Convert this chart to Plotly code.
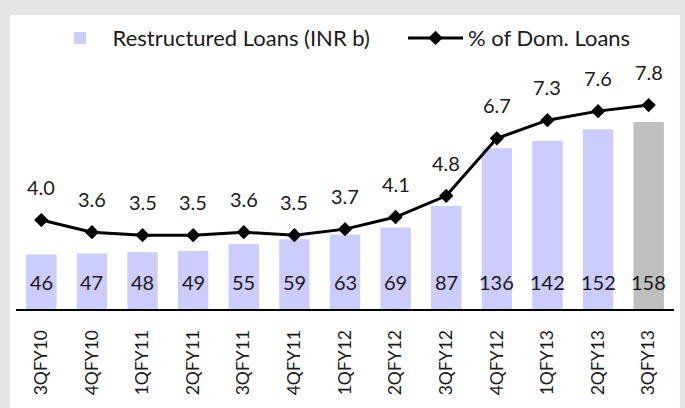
import plotly.graph_objects as go

quarters = ['3QFY10', '4QFY10', '1QFY11', '2QFY11', '3QFY11', '4QFY11', '1QFY12',
            '2QFY12', '3QFY12', '4QFY12', '1QFY13', '2QFY13', '3QFY13']
restructured = [46, 47, 48, 49, 55, 59, 63, 69, 87, 136, 142, 152, 158]
pct_dom_loans = [4.0, 3.6, 3.5, 3.5, 3.6, 3.5, 3.7, 4.1, 4.8, 6.7, 7.3, 7.6, 7.8]

FONT = 'Lato'
TXT = '#1a1a1a'

bar_colors = ['#ccccff'] * (len(quarters) - 1) + ['#bfbfbf']

fig = go.Figure()
# nbsp padding keeps the gap between the two legend entries
fig.add_trace(go.Bar(
    x=quarters, y=restructured, name='Restructured Loans (INR b)' + '\u00a0' * 5,
    marker_color=bar_colors, marker_line_width=0, yaxis='y',
))
fig.add_trace(go.Scatter(
    x=quarters, y=pct_dom_loans, name='% of Dom. Loans', yaxis='y2',
    mode='lines+markers', line=dict(color='black', width=3),
    marker=dict(symbol='diamond', size=11, color='black'),
))

# value labels
for q, v in zip(quarters, restructured):
    fig.add_annotation(x=q, y=0, yref='y', text=str(v), showarrow=False,
                       yanchor='middle', yshift=27,
                       font=dict(family=FONT, size=20, color=TXT))
for q, v in zip(quarters, pct_dom_loans):
    fig.add_annotation(x=q, y=v, yref='y2', text=f'{v:.1f}', showarrow=False,
                       yanchor='middle', yshift=33,
                       font=dict(family=FONT, size=20, color=TXT))

# white panel on the grey frame
fig.add_shape(type='rect', xref='paper', yref='paper', layer='below',
              x0=-0.0091, x1=1.009, y0=-0.45, y1=1.181,
              fillcolor='white', line_width=0)

fig.update_layout(
    width=685, height=408,
    margin=dict(l=16, r=11, t=60, b=99, autoexpand=False),
    paper_bgcolor='#e6e6e6', plot_bgcolor='white',
    font=dict(family=FONT, size=20, color=TXT),
    bargap=0.4, showlegend=True,
    legend=dict(orientation='h', x=0.048, xanchor='left', y=1.088, yanchor='middle',
                bgcolor='rgba(0,0,0,0)', font=dict(family=FONT, size=22, color=TXT),
                itemwidth=55, tracegroupgap=0),
    xaxis=dict(type='category', range=[-0.5, len(quarters) - 0.5],
               showline=True, linecolor='black', linewidth=2,
               tickangle=-90, ticks='', ticklabelstandoff=12, showgrid=False,
               automargin=False, tickfont=dict(family=FONT, size=17.5, color=TXT)),
    yaxis=dict(range=[0, 210.5], visible=False, showgrid=False, automargin=False),
    yaxis2=dict(range=[1.06, 9.29], overlaying='y', side='right', visible=False,
                showgrid=False, automargin=False),
)

# page has a default body margin; drop it so the figure sits at the window corner
fig.write_html('out.html', config={'displayModeBar': False},
               post_script="document.body.style.margin='0';document.body.style.background='#e6e6e6';")
